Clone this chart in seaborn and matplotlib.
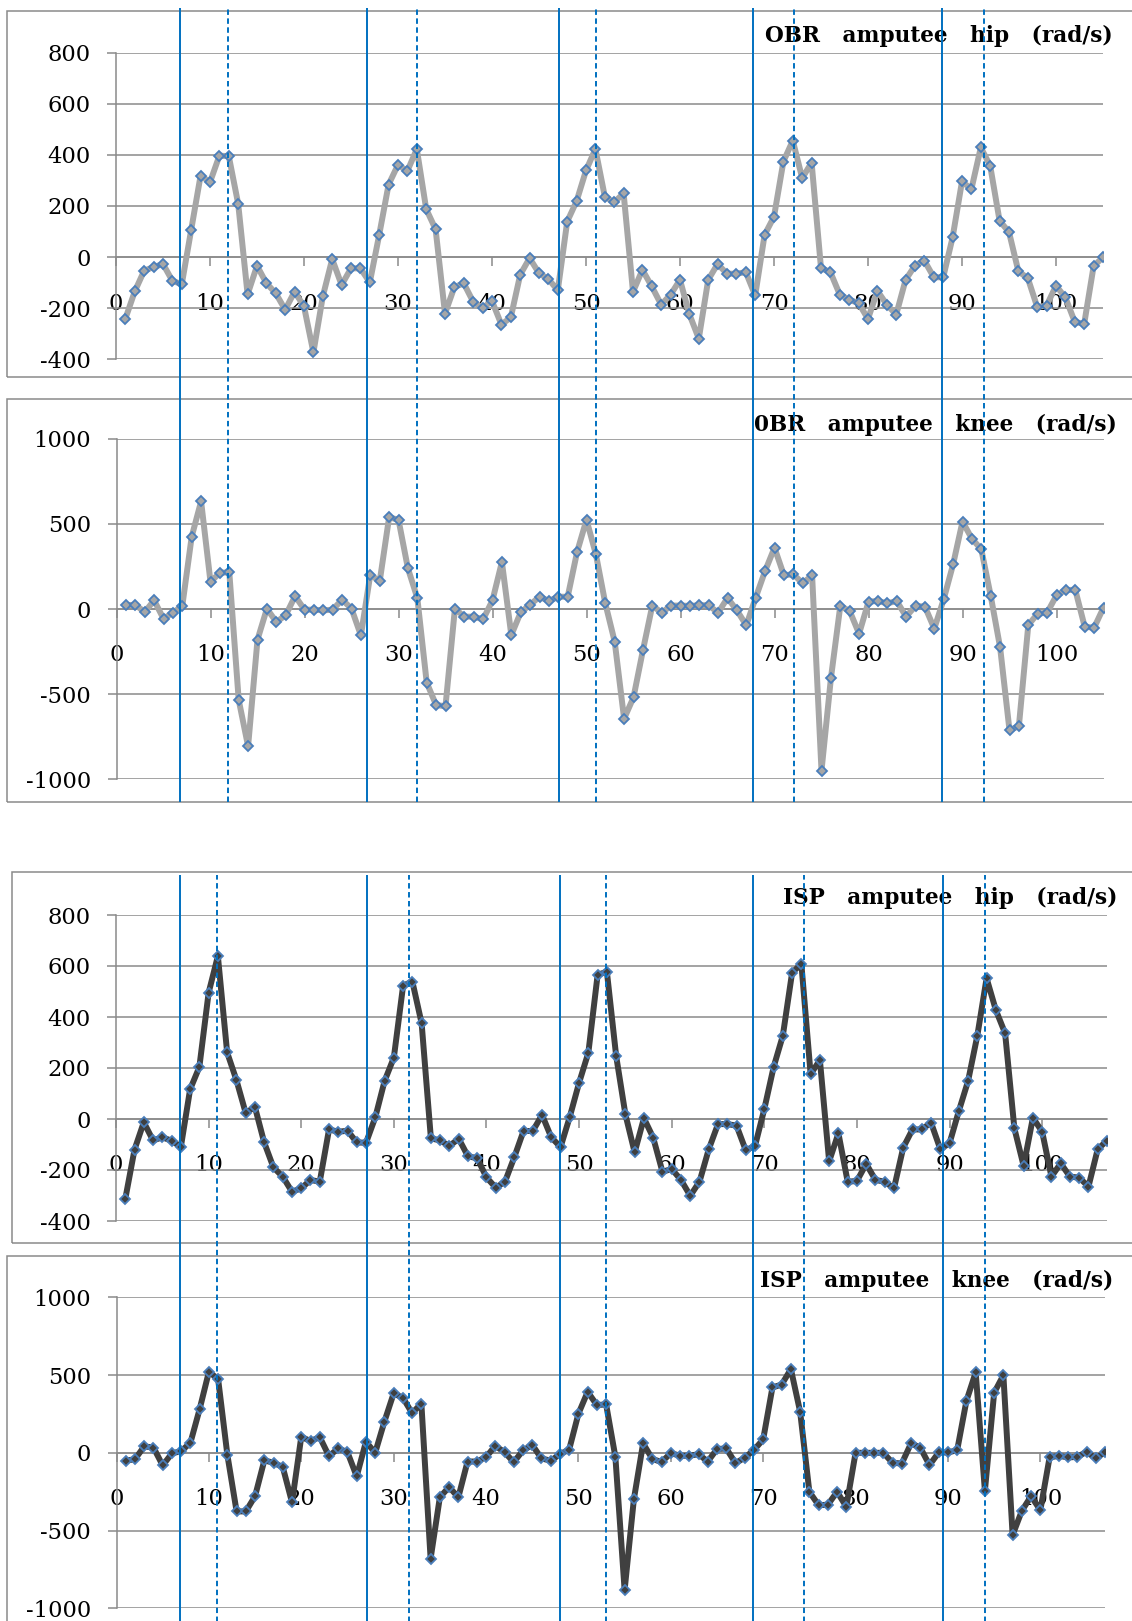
import numpy as np
import pandas as pd
import matplotlib
matplotlib.use("Agg")
import matplotlib.pyplot as plt
import seaborn as sns
from matplotlib.patches import Rectangle

# Angular velocity per frame (rad/s)
obr_hip = [-241, -134, -53, -39, -27, -93, -106, 107, 319, 293,
           397, 395, 208, -146, -34, -102, -142, -206, -135, -193,
           -373, -154, -8, -109, -44, -44, -99, 87, 284, 361,
           337, 423, 188, 109, -221, -117, -103, -175, -199, -172,
           -264, -236, -69, -4, -63, -86, -130, 139, 219, 339,
           423, 237, 214, 250, -136, -50, -115, -186, -147, -89,
           -224, -319, -89, -27, -65, -65, -59, -150, 87, 158,
           374, 456, 309, 370, -43, -59, -147, -167, -180, -242,
           -132, -186, -225, -89, -33, -14, -79, -79, 77, 296,
           266, 429, 357, 142, 98, -56, -82, -195, -190, -112,
           -158, -254, -261, -36, 0]

obr_knee = [22, 25, -18, 51, -57, -22, 18, 425, 632, 159,
            213, 215, -534, -806, -180, 2, -76, -37, 76, -4,
            -4, -8, -4, 55, 2, -155, 202, 162, 538, 524,
            239, 65, -432, -564, -571, 2, -45, -45, -61, 51,
            276, -153, -20, 25, 72, 47, 72, 72, 335, 524,
            321, 33, -192, -644, -519, -243, 20, -22, 20, 20,
            18, 22, 22, -22, 65, -8, -96, 67, 223, 360,
            198, 204, 151, 198, -949, -407, 18, -12, -145, 43,
            47, 33, 47, -45, 18, 14, -115, 57, 262, 513,
            413, 350, 78, -225, -712, -687, -94, -27, -22, 80,
            112, 112, -104, -110, 8]

isp_hip = [-314, -120, -13, -84, -72, -85, -110, 116, 204, 495,
           639, 261, 153, 24, 47, -92, -190, -226, -285, -272,
           -239, -246, -41, -50, -46, -92, -93, 7, 149, 241,
           523, 539, 375, -76, -84, -106, -77, -146, -154, -229,
           -269, -246, -150, -47, -47, 16, -72, -110, 9, 142,
           260, 565, 578, 248, 18, -131, 3, -73, -207, -196,
           -239, -301, -246, -119, -20, -20, -26, -123, -105, 39,
           203, 327, 574, 608, 176, 231, -166, -56, -246, -243,
           -176, -239, -246, -272, -112, -41, -41, -14, -118, -95,
           31, 149, 327, 552, 427, 336, -37, -184, 5, -50,
           -226, -174, -226, -230, -265, -118, -85]

isp_knee = [-51, -41, 41, 34, -81, -4, 11, 64, 281, 521,
            474, -13, -377, -377, -279, -49, -64, -92, -319, 103,
            75, 101, -21, 28, 4, -152, 71, 0, 201, 382,
            354, 255, 317, -680, -287, -219, -287, -56, -56, -28,
            45, 4, -60, 15, 51, -36, -51, -9, 21, 251,
            392, 307, 311, -26, -883, -300, 60, -39, -60, -2,
            -19, -19, -9, -56, 24, 28, -66, -32, 18, 86,
            420, 439, 538, 264, -251, -337, -334, -251, -347, 0,
            0, 0, 0, -64, -69, 60, 34, -79, 2, 2,
            17, 334, 517, -244, 386, 499, -529, -373, -279, -369,
            -30, -19, -30, -26, 6, -36, 4]

titles = ["OBR   amputee   hip   (rad/s)",
          "0BR   amputee   knee   (rad/s)",
          "ISP   amputee   hip   (rad/s)",
          "ISP   amputee   knee   (rad/s)"]
hip_ticks = [-400, -200, 0, 200, 400, 600, 800]
knee_ticks = [-1000, -500, 0, 500, 1000]
x_ticks = list(range(0, 101, 10))

# gait events (frame positions): solid = contact, dashed = toe-off
obr_contact = [6.8, 26.7, 47.1, 67.8, 87.9]
obr_toeoff = [11.9, 32.0, 51.1, 72.1, 92.3]
isp_contact = [6.9, 27.1, 47.9, 68.8, 89.3]
isp_toeoff = [10.9, 31.6, 52.9, 74.3, 93.8]

W, H = 1132, 1621
sns.set_theme(style="white")
plt.rcParams['font.family'] = ['DejaVu Serif']
plt.rcParams['axes.unicode_minus'] = False

GRID = '#8a8a8a'
BLUE = '#0070c0'
MEC = '#4a7ebb'

fig = plt.figure(figsize=(W / 100, H / 100), dpi=100)
fig.patch.set_facecolor('white')


def fx(px):
    return px / W


def fy(py):
    return 1 - py / H


def box(l, t, r, b):
    return [fx(l), fy(b), fx(r) - fx(l), fy(t) - fy(b)]


# chart-area frames
for l, t, r, b in [(7.3, 10.7, 1145, 376.7), (7.3, 399.3, 1145, 802.3),
                   (11.7, 871.7, 1145, 1242.7), (7.3, 1256, 1145, 1640)]:
    fig.add_artist(Rectangle((fx(l), fy(b)), fx(r) - fx(l), fy(t) - fy(b),
                             transform=fig.transFigure, fill=False,
                             edgecolor=GRID, lw=1.1, zorder=0))

panels = [
    dict(vals=obr_hip, ticks=hip_ticks, px=(116, 52.7, 1103, 359.3), nx=105,
         lc='#a6a6a6', fc='#a6a6a6', title=titles[0], tpos=(765, 42.3)),
    dict(vals=obr_knee, ticks=knee_ticks, px=(116.5, 438.7, 1103.5, 779.3), nx=105,
         lc='#a6a6a6', fc='#a6a6a6', title=titles[1], tpos=(754, 431)),
    dict(vals=isp_hip, ticks=hip_ticks, px=(116, 915, 1107, 1221), nx=107,
         lc='#404040', fc='#404040', title=titles[2], tpos=(783, 904.3)),
    dict(vals=isp_knee, ticks=knee_ticks, px=(116.5, 1297.3, 1105, 1608.3), nx=107,
         lc='#404040', fc='#404040', title=titles[3], tpos=(760, 1287.3)),
]

for p in panels:
    ax = fig.add_axes(box(*p['px']))
    ax.patch.set_alpha(0)
    df = pd.DataFrame({'frame': np.arange(1, len(p['vals']) + 1), 'value': p['vals']})
    sns.lineplot(data=df, x='frame', y='value', ax=ax, color=p['lc'], lw=4.3,
                 marker='D', markersize=5.2, markerfacecolor=p['fc'],
                 markeredgecolor=MEC, markeredgewidth=1.3, zorder=3)
    ax.set_xlim(0, p['nx'])
    ax.set_ylim(p['ticks'][0], p['ticks'][-1])
    ax.set_yticks(p['ticks'])
    ax.set_yticklabels([str(v) for v in p['ticks']])
    ax.set_xticks(x_ticks)
    ax.set_xticklabels([str(v) for v in x_ticks])
    ax.set_xlabel('')
    ax.set_ylabel('')
    ax.set_axisbelow(True)
    ax.yaxis.grid(True, color=GRID, lw=1.1)
    ax.xaxis.grid(False)
    for s in ['top', 'right']:
        ax.spines[s].set_visible(False)
    ax.spines['left'].set_color(GRID)
    ax.spines['left'].set_linewidth(1.1)
    ax.spines['bottom'].set_position(('data', 0))
    ax.spines['bottom'].set_color(GRID)
    ax.spines['bottom'].set_linewidth(1.1)
    ax.tick_params(axis='x', direction='out', length=6.5, width=1.1, color=GRID,
                   pad=19, labelsize=16.3, labelcolor='black', bottom=True)
    ax.tick_params(axis='y', direction='out', length=6.3, width=1.1, color=GRID,
                   pad=12, labelsize=16.3, labelcolor='black', left=True)
    fig.text(fx(p['tpos'][0]), fy(p['tpos'][1]), p['title'], fontsize=15.6,
             fontweight='bold', ha='left', va='baseline', color='black', zorder=3)

# gait event markers spanning each pair of charts
for px, nx, contact, toeoff in [((116, 8, 1103, 802), 105, obr_contact, obr_toeoff),
                                 ((116, 875, 1107, 1625), 107, isp_contact, isp_toeoff)]:
    ov = fig.add_axes(box(*px))
    ov.set_zorder(5)
    ov.set_xlim(0, nx)
    ov.set_ylim(0, 1)
    ov.axis('off')
    for x in contact:
        ov.axvline(x, color=BLUE, lw=1.4)
    for x in toeoff:
        ov.axvline(x, color=BLUE, lw=1.4, ls=(0, (2.8, 1.8)))

fig.savefig('out.png', dpi=100)
